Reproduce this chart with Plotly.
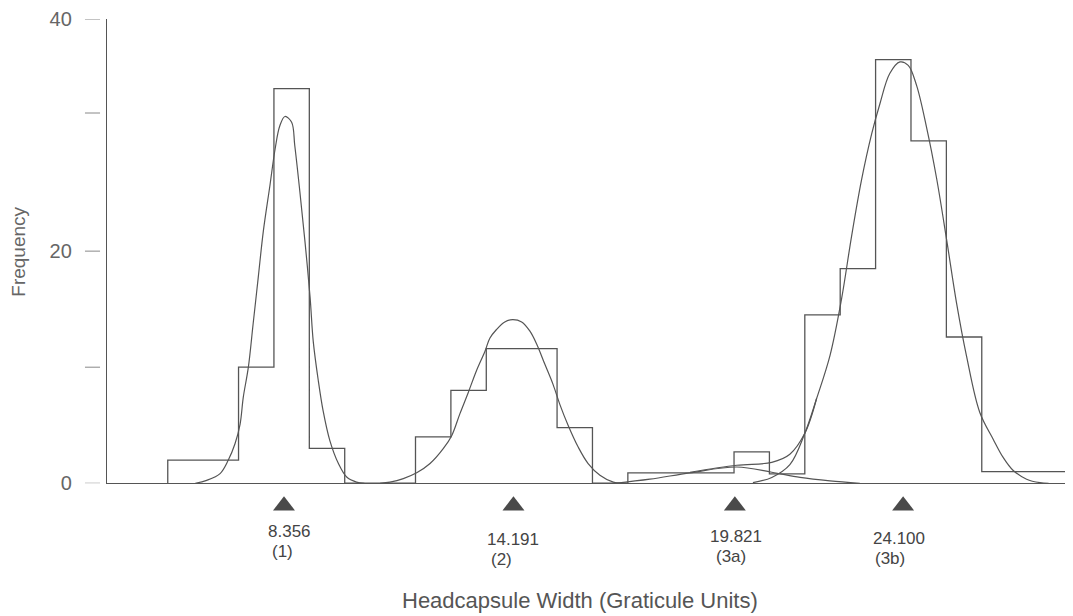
import plotly.graph_objects as go

# ---------------- data ----------------
# histogram (bin edges in graticule units, frequency per bin)
bin_edges = [5.4, 6.3, 7.2, 8.1, 9.0, 9.9, 10.8, 11.7, 12.6, 13.5, 14.4, 15.3,
             16.2, 17.1, 18.0, 18.9, 19.8, 20.7, 21.6, 22.5, 23.4, 24.3, 25.2,
             26.1, 27.0, 27.9, 28.8]
bin_freq = [2, 2, 10, 34, 3, 0, 0, 4, 8, 11.6, 11.6, 4.8,
            0, 0.9, 0.9, 0.9, 2.7, 0.8, 14.5, 18.5, 36.5, 29.5, 12.6,
            1, 1, 1]

# fitted component curves
c1_x = [6.10, 6.39, 6.73, 6.94, 7.11, 7.24, 7.32, 7.45, 7.57, 7.70, 7.83, 8.00, 8.13,
        8.25, 8.38, 8.55, 8.63, 8.76, 8.89, 9.02, 9.10, 9.23, 9.35, 9.52, 9.74,
        9.95, 10.20, 10.40]
c1_y = [0, 0.25, 0.83, 2.0, 3.4, 5.1, 7.4, 10.0, 13.7, 17.7, 21.7, 25.7, 28.8,
        30.8, 31.6, 31.1, 29.1, 25.1, 20.8, 16.0, 12.2, 8.8, 6.25, 3.7, 1.7,
        0.54, 0.1, 0]

c2_x = [10.80, 11.05, 11.39, 11.73, 12.07, 12.41, 12.62, 12.83, 13.04, 13.25, 13.47,
        13.59, 13.76, 13.97, 14.17, 14.40, 14.61, 14.78, 14.99, 15.20, 15.37, 15.58,
        15.84, 16.09, 16.39, 16.73, 16.90]
c2_y = [0, 0.1, 0.4, 0.9, 1.7, 3.0, 4.1, 6.0, 7.8, 9.7, 11.4,
        12.5, 13.25, 13.9, 14.1, 13.9, 13.1, 12.0, 10.25, 8.5, 6.8, 5.0,
        3.1, 1.7, 0.7, 0.1, 0]

c3a_x = [16.77, 17.66, 18.68, 19.87, 20.76, 21.48, 22.24, 23.00]
c3a_y = [0, 0.35, 0.9, 1.4, 0.95, 0.5, 0.2, 0]

sum_x = [18.68, 19.87, 20.76, 21.22, 21.60, 21.90]
sum_y = [0.95, 1.55, 1.8, 2.5, 4.3, 7.3]

c3b_x = [20.28, 20.76, 21.22, 21.60, 21.90, 22.24, 22.53, 22.79, 23.04, 23.30, 23.51,
         23.76, 24.02, 24.23, 24.44, 24.70, 24.95, 25.21, 25.46, 25.71, 26.05,
         26.39, 26.64, 26.90, 27.24, 27.58, 27.80]
c3b_y = [0.05, 0.5, 1.6, 4.3, 7.3, 11.0, 15.8, 21.3, 26.1, 30.1, 32.7,
         35.3, 36.3, 36.0, 34.3, 30.6, 26.3, 20.9, 15.5, 11.0, 6.1,
         3.8, 2.25, 1.1, 0.35, 0.05, 0]

# component means
mean_vals = [8.356, 14.191, 19.821, 24.100]
mean_labels = ["8.356", "14.191", "19.821", "24.100"]
comp_labels = ["(1)", "(2)", "(3a)", "(3b)"]

y_tick_vals = [0, 20, 40]
y_tick_text = ["0", "20", "40"]
y_minor_ticks = [10, 31.9]

# ---------------- figure ----------------
INK = "#555555"
FONT = "Liberation Sans, Arial, sans-serif"
X_MIN, X_MAX = 3.855, 28.42

fig = go.Figure()

# histogram outline as a step line
step_x = [bin_edges[0]] + bin_edges[:-1] + [X_MAX]
step_y = [0] + bin_freq + [bin_freq[-1]]
fig.add_trace(go.Scatter(x=step_x, y=step_y, mode="lines", line_shape="hv",
                         line=dict(color=INK, width=1.3), hoverinfo="skip"))

for cx, cy in [(c1_x, c1_y), (c2_x, c2_y), (c3a_x, c3a_y), (sum_x, sum_y), (c3b_x, c3b_y)]:
    fig.add_trace(go.Scatter(x=cx, y=cy, mode="lines", line_shape="spline",
                             line=dict(color=INK, width=1.2), hoverinfo="skip"))

# triangles under the axis at the component means (own strip axis below the plot)
fig.add_trace(go.Scatter(x=mean_vals, y=[0] * len(mean_vals), mode="markers",
                         xaxis="x", yaxis="y2",
                         marker=dict(symbol="triangle-up", size=19, color="#4a4a4a"),
                         cliponaxis=False, hoverinfo="skip"))

annotations = []
val_shift = [(5, -48), (0, -56), (1, -53), (-4, -55)]
lab_shift = [(-2, -68), (-12, -76), (-4, -73), (-13, -75)]
for m, vt, ct, vs, ls in zip(mean_vals, mean_labels, comp_labels, val_shift, lab_shift):
    annotations.append(dict(x=m, y=0, xref="x", yref="y", text=vt, showarrow=False,
                            xshift=vs[0], yshift=vs[1], xanchor="center", yanchor="middle",
                            font=dict(family=FONT, size=17, color="#444444")))
    annotations.append(dict(x=m, y=0, xref="x", yref="y", text=ct, showarrow=False,
                            xshift=ls[0], yshift=ls[1], xanchor="center", yanchor="middle",
                            font=dict(family=FONT, size=17, color="#444444")))

# paper area spans y = 16 .. 526 px (510 px tall), x = 107 .. 1073 px
annotations.append(dict(x=-0.0911, y=0.541, xref="paper", yref="paper", text="Frequency",
                        textangle=-90, showarrow=False, xanchor="center", yanchor="middle",
                        font=dict(family=FONT, size=19, color="#666666")))
annotations.append(dict(x=0.4896, y=-0.147, xref="paper", yref="paper",
                        text="Headcapsule Width (Graticule Units)", showarrow=False,
                        xanchor="center", yanchor="middle",
                        font=dict(family=FONT, size=22, color="#555555")))

shapes = []
for v in y_tick_vals + y_minor_ticks:
    shapes.append(dict(type="line", xref="paper", yref="y", x0=-0.0228, x1=-0.0072,
                       y0=v, y1=v, line=dict(color="#888888", width=1)))

# the page body has an 8px margin, so the figure is shrunk by that much
fig.update_layout(
    width=1065, height=608,
    margin=dict(l=99, r=0, t=8, b=90),
    paper_bgcolor="white", plot_bgcolor="white",
    showlegend=False,
    annotations=annotations, shapes=shapes,
    xaxis=dict(range=[X_MIN, X_MAX], showgrid=False, zeroline=False,
               showline=True, linecolor=INK, linewidth=1.3,
               showticklabels=False, ticks="", anchor="y"),
    yaxis=dict(range=[0, 40], domain=[0.0843, 1], showgrid=False, zeroline=False,
               showline=True, linecolor=INK, linewidth=1.3,
               tickvals=y_tick_vals, ticktext=y_tick_text, ticks="",
               ticklabelstandoff=30, ticklabeloverflow="allow",
               tickfont=dict(family=FONT, size=20, color="#666666")),
    yaxis2=dict(range=[-1, 1], domain=[0, 0.08], visible=False, anchor="x",
                showgrid=False, zeroline=False),
)

fig.write_html("out.html")
